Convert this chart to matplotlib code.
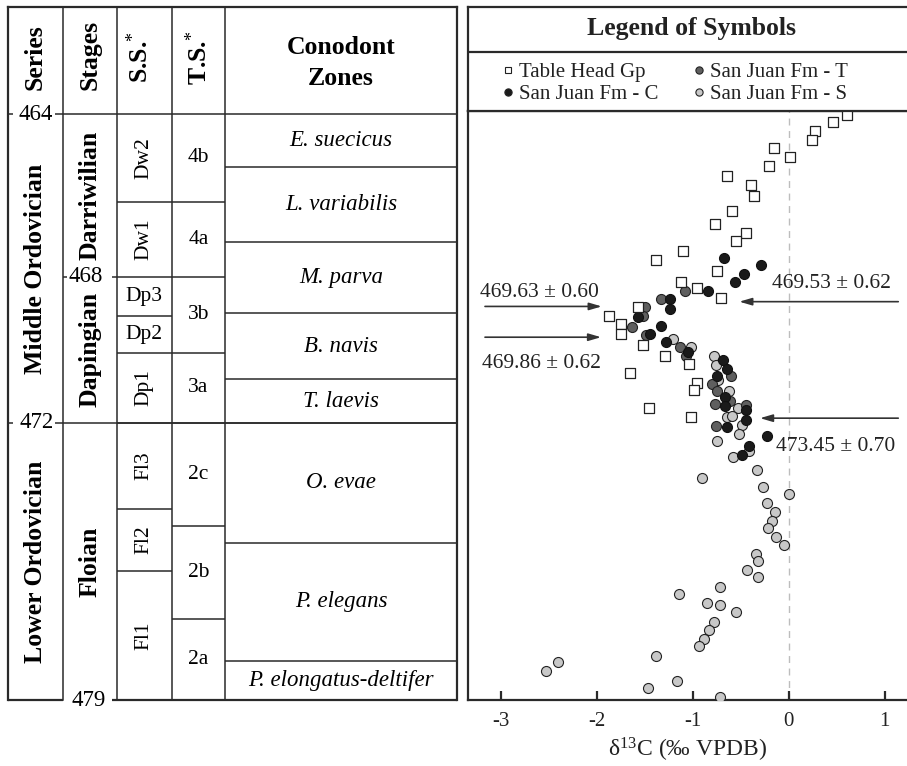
import numpy as np
import matplotlib
matplotlib.use('Agg')
import matplotlib.pyplot as plt

plt.rcParams['font.family'] = ['Liberation Serif', 'DejaVu Serif']
plt.rcParams['mathtext.fontset'] = 'custom'
plt.rcParams['mathtext.rm'] = 'Liberation Serif'
plt.rcParams['mathtext.it'] = 'Liberation Serif:italic'
plt.rcParams['mathtext.bf'] = 'Liberation Serif:bold'
plt.rcParams['axes.unicode_minus'] = False

# ---- carbon isotope data (d13C permil, age Ma) ----
th_d13c = [0.603, 0.464, 0.273, 0.239, -0.159, 0.013, -0.203, -0.647, -0.394, -0.363,
           -0.597, -0.769, -0.443, -0.550, -1.102, -1.383, -0.743, -1.123, -0.959, -0.706,
           -1.576, -1.876, -1.751, -1.751, -1.514, -1.293, -1.040, -1.654, -0.959, -0.988,
           -1.461, -1.024]
th_age = [464.02, 464.20, 464.42, 464.65, 464.83, 465.07, 465.28, 465.54, 465.76, 466.02,
          466.40, 466.71, 466.94, 467.14, 467.37, 467.60, 467.86, 468.14, 468.31, 468.59,
          468.83, 469.08, 469.31, 469.56, 469.86, 470.16, 470.40, 470.65, 470.90, 471.11,
          471.60, 471.85]

sjc_d13c = [-0.675, -0.290, -0.464, -0.560, -0.847, -1.238, -1.238, -1.576, -1.331, -1.446,
            -1.282, -1.053, -0.689, -0.647, -0.751, -0.665, -0.665, -0.446, -0.446, -0.647,
            -0.227, -0.415, -0.491]
sjc_age = [467.54, 467.72, 467.95, 468.16, 468.40, 468.63, 468.90, 469.11, 469.35, 469.56,
           469.80, 470.06, 470.27, 470.52, 470.72, 471.29, 471.55, 471.66, 471.92, 472.11,
           472.34, 472.58, 472.80]

sjt_d13c = [-1.081, -1.334, -1.503, -1.519, -1.636, -1.488, -1.130, -1.066, -0.602, -0.805,
            -0.748, -0.613, -0.769, -0.451, -0.758]
sjt_age = [468.40, 468.61, 468.84, 469.08, 469.39, 469.61, 469.92, 470.18, 470.73, 470.93,
           471.13, 471.40, 471.49, 471.51, 472.08]

sjs_d13c = [-1.208, -1.024, -0.781, -0.761, -0.741, -0.621, -0.526, -0.639, -0.595, -0.491,
            -0.516, -0.750, -0.418, -0.581, -0.334, -0.907, -0.274, 0.000, -0.230, -0.147,
            -0.178, -0.217, -0.133, -0.053, -0.342, -0.318, -0.433, -0.318, -0.717, -1.147,
            -0.855, -0.717, -0.550, -0.779, -0.828, -0.886, -0.935, -1.383, -2.407, -2.529,
            -1.168, -1.464, -0.717]
sjs_age = [469.72, 469.92, 470.17, 470.41, 470.83, 471.13, 471.60, 471.84, 471.80, 472.05,
           472.27, 472.45, 472.71, 472.87, 473.19, 473.40, 473.62, 473.79, 474.03, 474.24,
           474.47, 474.66, 474.89, 475.08, 475.31, 475.49, 475.72, 475.89, 476.14, 476.32,
           476.55, 476.60, 476.78, 477.04, 477.23, 477.46, 477.64, 477.88, 478.05, 478.27,
           478.51, 478.70, 478.93]

# ---- stratigraphic table ----
series_names = ['Middle Ordovician', 'Lower Ordovician']
series_bounds = [464, 472, 479]
stage_names = ['Darriwilian', 'Dapingian', 'Floian']
stage_bounds = [464, 468, 472, 479]
ss_names = ['Dw2', 'Dw1', 'Dp3', 'Dp2', 'Dp1', 'Fl3', 'Fl2', 'Fl1']
ss_bounds = [464, 466.16, 468, 469.08, 470.08, 472, 474.17, 475.73, 479]
ts_names = ['4b', '4a', '3b', '3a', '2c', '2b', '2a']
ts_bounds = [464, 466.16, 468, 470.08, 472, 474.60, 476.95, 479]
zone_names = ['E. suecicus', 'L. variabilis', 'M. parva', 'B. navis', 'T. laevis',
              'O. evae', 'P. elegans', 'P. elongatus-deltifer']
zone_bounds = [464, 465.30, 467.14, 469.00, 470.81, 472, 475.02, 478.01, 479]
age_labels = ['464', '468', '472', '479']
age_marks = [464, 468, 472, 479]

dates = ['469.63 \u00b1 0.60', '469.86 \u00b1 0.62', '469.53 \u00b1 0.62', '473.45 \u00b1 0.70']

# vertical scale of the chart is piecewise linear between the labelled ages
AGE_K = np.array([464.0, 468.0, 472.0, 479.0])
POS_K = np.array([0.0, 162.5, 309.0, 586.0])


def _pw(v, xk, yk):
    v = np.asarray(v, dtype=float)
    out = np.interp(v, xk, yk)
    s0 = (yk[1] - yk[0]) / (xk[1] - xk[0])
    s1 = (yk[-1] - yk[-2]) / (xk[-1] - xk[-2])
    out = np.where(v < xk[0], yk[0] + (v - xk[0]) * s0, out)
    out = np.where(v > xk[-1], yk[-1] + (v - xk[-1]) * s1, out)
    return out


def fwd(a):
    return _pw(a, AGE_K, POS_K)


def inv(p):
    return _pw(p, POS_K, AGE_K)


def mid(a, b):
    return float(inv((fwd(a) + fwd(b)) / 2))


W, H = 907, 766
fig = plt.figure(figsize=(W / 100, H / 100), dpi=100)


def box(x0, y0, x1, y1):
    return [x0 / W, (H - y1) / H, (x1 - x0) / W, (y1 - y0) / H]


LC = '#2a2a2a'
LW_IN = 1.1
LW_OUT = 1.6

# ================= left: table =================
ax_t = fig.add_axes(box(8, 114, 457, 700))
ax_t.set_yscale('function', functions=(fwd, inv))
ax_t.set_ylim(479, 464)
ax_t.set_xlim(0, 1)
ax_t.axis('off')
tr = ax_t.get_yaxis_transform()
cols = [0, 0.1218, 0.2421, 0.3646, 0.4833, 1.0]
htop = 1 + 107 / 586


def hl(x0, x1, age, lw=LW_IN):
    ax_t.plot([x0, x1], [age, age], color=LC, lw=lw, transform=tr, clip_on=False,
              solid_capstyle='butt')


# frame and column lines
for i, x in enumerate(cols):
    lw = LW_OUT if i in (0, len(cols) - 1) else LW_IN
    ax_t.plot([x, x], [0, htop], color=LC, lw=lw, transform=ax_t.transAxes, clip_on=False)
ax_t.plot([0, 1], [htop, htop], color=LC, lw=LW_OUT, transform=ax_t.transAxes, clip_on=False)

# header bottom (464) and 472 line, broken in series column
hl(cols[1], 1, 464)
hl(cols[1], 1, 472)
for a in (464, 472):
    hl(0, 0.011, a)
    hl(0.105, cols[1], a)
# 468 ticks in stage column
hl(cols[1], 0.1303, 468)
hl(0.2316, cols[2], 468)
# bottom line, broken for 479 label
hl(0, cols[1], 479, LW_OUT)
hl(0.2316, 1, 479, LW_OUT)

# inner boundaries
for bounds, c in ((ss_bounds, 2), (ts_bounds, 3), (zone_bounds, 4)):
    for b in bounds[1:-1]:
        hl(cols[c], cols[c + 1], b)

# header texts
hdr_kw = dict(ha='center', va='center', fontsize=18.5, fontweight='bold',
              transform=ax_t.transAxes, clip_on=False)
ax_t.text((cols[0] + cols[1]) / 2, 1.0964, 'Series', rotation=90, **hdr_kw)
ax_t.text((cols[1] + cols[2]) / 2, 1.1007, 'Stages', rotation=90, **hdr_kw)
ax_t.text((cols[2] + cols[3]) / 2 - 0.01, 1.0964, 'S.S.$^{*}$', rotation=90, **hdr_kw)
ax_t.text((cols[3] + cols[4]) / 2, 1.0964, 'T.S.$^{*}$', rotation=90, **hdr_kw)
ax_t.text((cols[4] + cols[5]) / 2, 1.1024, 'Conodont', ha='center', va='baseline',
          fontsize=18.5, fontweight='bold', transform=ax_t.transAxes, clip_on=False)
ax_t.text((cols[4] + cols[5]) / 2, 1.0495, 'Zones', ha='center', va='baseline',
          fontsize=18.5, fontweight='bold', transform=ax_t.transAxes, clip_on=False)

# body texts
for name, a, b in zip(series_names, series_bounds[:-1], series_bounds[1:]):
    ax_t.text((cols[0] + cols[1]) / 2, mid(a, b), name, rotation=90, ha='center', va='center',
              fontsize=18.5, fontweight='bold', transform=tr)
for name, a, b in zip(stage_names, stage_bounds[:-1], stage_bounds[1:]):
    ax_t.text((cols[1] + cols[2]) / 2, mid(a, b), name, rotation=90, ha='center', va='center',
              fontsize=18.5, fontweight='bold', transform=tr)
for name, a, b in zip(ss_names, ss_bounds[:-1], ss_bounds[1:]):
    rot = 0 if name in ('Dp3', 'Dp2') else 90
    ax_t.text((cols[2] + cols[3]) / 2, mid(a, b), name, rotation=rot, ha='center', va='center',
              fontsize=15.5, transform=tr)
for name, a, b in zip(ts_names, ts_bounds[:-1], ts_bounds[1:]):
    ax_t.text((cols[3] + cols[4]) / 2, mid(a, b), name, ha='center', va='center',
              fontsize=15.5, transform=tr)
for name, a, b in zip(zone_names, zone_bounds[:-1], zone_bounds[1:]):
    ax_t.text((cols[4] + cols[5]) / 2, mid(a, b), name, ha='center', va='center',
              fontsize=16.5, style='italic', transform=tr)

# age labels
age_x = [0.0609, 0.1737, 0.0635, 0.1804]
for lab, a, x in zip(age_labels, age_marks, age_x):
    ax_t.text(x, a, lab, ha='center', va='center', fontsize=16.5, transform=tr, clip_on=False)

# ================= right: isotope plot =================
ax = fig.add_axes(box(468, 111, 907, 700))
ax.set_yscale('function', functions=(fwd, inv))
ax.set_ylim(479, 463.93)
ax.set_xlim(-3.342, 1.231)
ax.axvline(0, color='#bdbdbd', lw=1.0, ls=(0, (5, 4)), zorder=1)

ax.scatter(sjs_d13c, sjs_age, s=52, marker='o', c='#c8c8c8', edgecolors='#222222',
           linewidths=0.8, zorder=3)
ax.scatter(sjt_d13c, sjt_age, s=52, marker='o', c='#5f5f5f', edgecolors='#222222',
           linewidths=0.8, zorder=4)
ax.scatter(sjc_d13c, sjc_age, s=52, marker='o', c='#1a1a1a', edgecolors='#111111',
           linewidths=0.8, zorder=5)
ax.scatter(th_d13c, th_age, s=42, marker='s', c='white', edgecolors='#222222',
           linewidths=0.9, zorder=6)

# U-Pb date arrows
arrow_tail = [-3.165, -3.165, 1.14, 1.14]
arrow_head = [-1.949, -1.956, -0.516, -0.300]
arrow_y = [468.82, 469.66, 468.69, 471.87]
label_x = [-3.217, -3.196, -0.178, -0.133]
label_y = [468.55, 470.51, 468.32, 472.70]
for txt, xt, xh, ya, lx, ly in zip(dates, arrow_tail, arrow_head, arrow_y, label_x, label_y):
    ax.annotate('', xy=(xh, ya), xytext=(xt, ya),
                arrowprops=dict(arrowstyle='-|>,head_length=0.75,head_width=0.22',
                                color='#333333', lw=1.2, shrinkA=0, shrinkB=0),
                annotation_clip=False, zorder=7)
    ax.text(lx, ly, txt, ha='left', va='baseline', fontsize=15.5, color='#222222', zorder=8)

for s in ('left', 'top', 'bottom'):
    ax.spines[s].set_linewidth(LW_OUT)
    ax.spines[s].set_color(LC)
ax.spines['right'].set_visible(False)
ax.set_yticks([])
ax.set_xticks([-3, -2, -1, 0, 1])
ax.tick_params(axis='x', direction='in', length=6.5, width=1.6, labelsize=15, pad=9,
               color=LC, labelcolor='#222222')
ax.set_xlabel('\u03b4$^{13}$C (\u2030 VPDB)', fontsize=17, labelpad=3, color='#222222')

# ================= legend box =================
ax_l = fig.add_axes(box(468, 7, 907, 111))
ax_l.set_xlim(0, 1)
ax_l.set_ylim(0, 1)
ax_l.set_xticks([])
ax_l.set_yticks([])
for s in ('left', 'top', 'bottom'):
    ax_l.spines[s].set_linewidth(LW_OUT)
    ax_l.spines[s].set_color(LC)
ax_l.spines['right'].set_visible(False)
ax_l.axhline(0.567, color=LC, lw=LW_OUT)
ax_l.text(0.508, 0.731, 'Legend of Symbols', ha='center', va='baseline', fontsize=18.5,
          fontweight='bold', color='#222222')

legend_labels = ['Table Head Gp', 'San Juan Fm - T', 'San Juan Fm - C', 'San Juan Fm - S']
legend_marker = ['s', 'o', 'o', 'o']
legend_face = ['white', '#5f5f5f', '#1a1a1a', '#c8c8c8']
leg_pos = [(0.0911, 0.394), (0.526, 0.394), (0.0911, 0.186), (0.526, 0.186)]
for lab, mk, fc, (x, y) in zip(legend_labels, legend_marker, legend_face, leg_pos):
    ax_l.plot([x], [y], marker=mk, ms=5.2 if mk == 'o' else 4.8, mfc=fc, mec='#222222',
              mew=0.8, ls='none')
    ax_l.text(x + 0.025, y - 0.07, lab, ha='left', va='baseline', fontsize=15,
              color='#222222')

fig.savefig('out.png', dpi=100)
